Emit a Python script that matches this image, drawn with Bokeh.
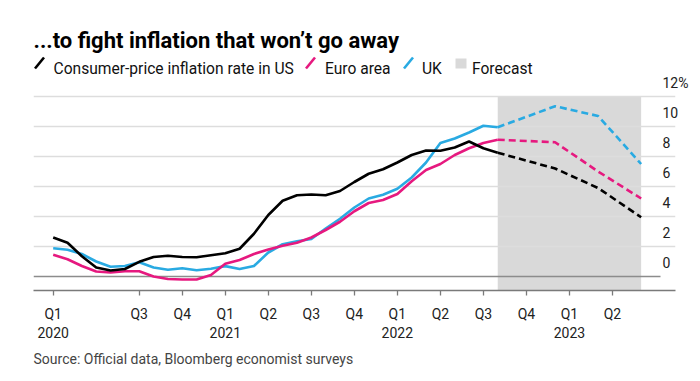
from bokeh.plotting import figure
from bokeh.models import Range1d, LinearAxis, FixedTicker, Title
from bokeh.core.properties import value
from bokeh.embed import file_html
from bokeh.resources import INLINE

# ---------------- data (months since Jan 2020) ----------------
months = list(range(32))  # Jan 2020 .. Aug 2022 (actual)
us = [2.6, 2.25, 1.35, 0.6, 0.4, 0.5, 0.98, 1.3, 1.38, 1.3, 1.28, 1.42,
      1.55, 1.85, 2.85, 4.1, 5.05, 5.42, 5.47, 5.42, 5.7, 6.3, 6.85, 7.15,
      7.6, 8.1, 8.4, 8.38, 8.6, 9.0, 8.55, 8.25]
euro = [1.45, 1.15, 0.7, 0.33, 0.27, 0.35, 0.35, 0.0, -0.17, -0.2, -0.2, 0.1,
        0.85, 1.1, 1.5, 1.8, 2.05, 2.25, 2.6, 3.1, 3.65, 4.35, 4.9, 5.1,
        5.5, 6.35, 7.1, 7.5, 8.1, 8.55, 8.9, 9.12]
uk = [1.88, 1.78, 1.5, 1.0, 0.65, 0.7, 0.95, 0.6, 0.45, 0.55, 0.42, 0.52,
      0.69, 0.5, 0.7, 1.6, 2.15, 2.35, 2.5, 3.2, 3.85, 4.6, 5.2, 5.45,
      5.85, 6.6, 7.6, 8.9, 9.2, 9.6, 10.05, 9.95]

fc_months = [35, 38, 41]  # Dec 2022, Mar 2023, Jun 2023
us_fc = [7.2, 5.9, 3.95]
euro_fc = [8.95, 7.0, 5.2]
uk_fc = [11.35, 10.7, 7.5]

forecast_start = 31
forecast_end = 41

tick_months = [0, 6, 9, 12, 15, 18, 21, 24, 27, 30, 33, 36, 39]
tick_labels = ["Q1\n2020", "Q3", "Q4", "Q1\n2021", "Q2", "Q3", "Q4",
               "Q1\n2022", "Q2", "Q3", "Q4", "Q1\n2023", "Q2"]
y_ticks = [0, 2, 4, 6, 8, 10, 12]
y_labels = ["0", "2", "4", "6", "8", "10", "12%"]

title_text = "...to fight inflation that won\u2019t go away"
legend_names = ["Consumer-price inflation rate in US", "Euro area", "UK", "Forecast"]
source_text = "Source: Official data, Bloomberg economist surveys"

BLACK = "#000000"
PINK = "#e6197f"
BLUE = "#29aae2"
GRAY = "#d9d9d9"
FONT = "Roboto"

# ---------------- layout helpers (canvas pixel -> data coords) ----------------
PX0, PXM = 52.7, 14.34   # x of month 0, px per month
PY0, PYU = 276.0, 15.0   # y of value 0, px per unit
TOP = 8                  # canvas top margin


def sx(px):
    return (px - PX0) / PXM


def sy(py):
    return (PY0 - py) / PYU


X0, X1 = sx(33), sx(675)
Y0, Y1 = sy(290), sy(TOP)

p = figure(frame_width=642, frame_height=290 - TOP,
           x_range=Range1d(X0, X1), y_range=Range1d(Y0, Y1),
           output_backend="svg", toolbar_location=None, title=None,
           y_axis_location=None,
           min_border_left=33, min_border_right=17, min_border_top=TOP,
           min_border_bottom=8)
p.outline_line_color = None
p.background_fill_color = "white"
p.border_fill_color = "white"

# grid
p.xgrid.visible = False
p.ygrid.ticker = FixedTicker(ticks=[t for t in y_ticks if t != 0])
p.ygrid.grid_line_color = "#dddddd"
p.ygrid.grid_line_width = 1.3

# forecast shading
p.quad(left=[forecast_start], right=[forecast_end], bottom=[Y0], top=[max(y_ticks)],
       fill_color=GRAY, line_color=None, level="image")

# zero line
p.segment(x0=[X0], y0=[0], x1=[sx(660)], y1=[0], line_color="#8c8c8c", line_width=1.6)

# series
for vals, fc, col in [(uk, uk_fc, BLUE), (euro, euro_fc, PINK), (us, us_fc, BLACK)]:
    p.line(months, vals, line_color=col, line_width=2.6, line_join="round")
    p.line([months[-1]] + fc_months, [vals[-1]] + fc, line_color=col,
           line_width=2.6, line_dash="7 4", line_join="round")

# x axis
xa = p.xaxis[0]
xa.ticker = FixedTicker(ticks=tick_months)
xa.major_label_overrides = {m: l for m, l in zip(tick_months, tick_labels)}
xa.minor_tick_line_color = None
xa.axis_line_color = "#7a7a7a"
xa.axis_line_width = 1.5
xa.major_tick_line_color = "#7a7a7a"
xa.major_tick_line_width = 1.3
xa.major_tick_out = 5
xa.major_tick_in = 0
xa.major_label_standoff = 10
xa.major_label_text_font = FONT
xa.major_label_text_font_size = "14px"
xa.major_label_text_color = "#222222"

# right axis (labels sit above their grid lines)
shift = 14.0 / PYU
p.extra_y_ranges = {"lab": Range1d(Y0 - shift, Y1 - shift)}
ra = LinearAxis(y_range_name="lab", ticker=FixedTicker(ticks=y_ticks),
                major_label_overrides={t: l for t, l in zip(y_ticks, y_labels)},
                axis_line_color=None, major_tick_line_color=None,
                minor_tick_line_color=None, major_tick_out=0, major_tick_in=0,
                major_label_standoff=-13, major_label_text_font=FONT,
                major_label_text_font_size="14px", major_label_text_color="#222222")
p.add_layout(ra, "right")

# title
p.text(x=[sx(33)], y=[sy(39.5)], text=[title_text], text_font=value(FONT),
       text_font_style="bold", text_font_size="22px", text_color="#000000",
       text_baseline="alphabetic", text_align="left")

# legend
leg_y = sy(68.5)
slashes = [(34.5, BLACK), (305.5, PINK), (403.5, BLUE)]
for x, col in slashes:
    p.segment(x0=[sx(x)], y0=[sy(68)], x1=[sx(x + 9)], y1=[sy(57)],
              line_color=col, line_width=2.6)
p.quad(left=[sx(455)], right=[sx(466)], bottom=[sy(68)], top=[sy(58)],
       fill_color=GRAY, line_color=None)
for x, name in zip([53, 324.5, 421.5, 471.5], legend_names):
    p.text(x=[sx(x)], y=[leg_y], text=[name], text_font=value(FONT),
           text_font_size="15.6px", text_color="#111111",
           text_baseline="alphabetic", text_align="left")

# source
src = Title(text=source_text, align="left", text_font=FONT, text_font_size="14px",
            text_font_style="normal", text_color="#444444", standoff=11)
p.add_layout(src, "below")

open("out.html", "w").write(file_html(p, INLINE))
